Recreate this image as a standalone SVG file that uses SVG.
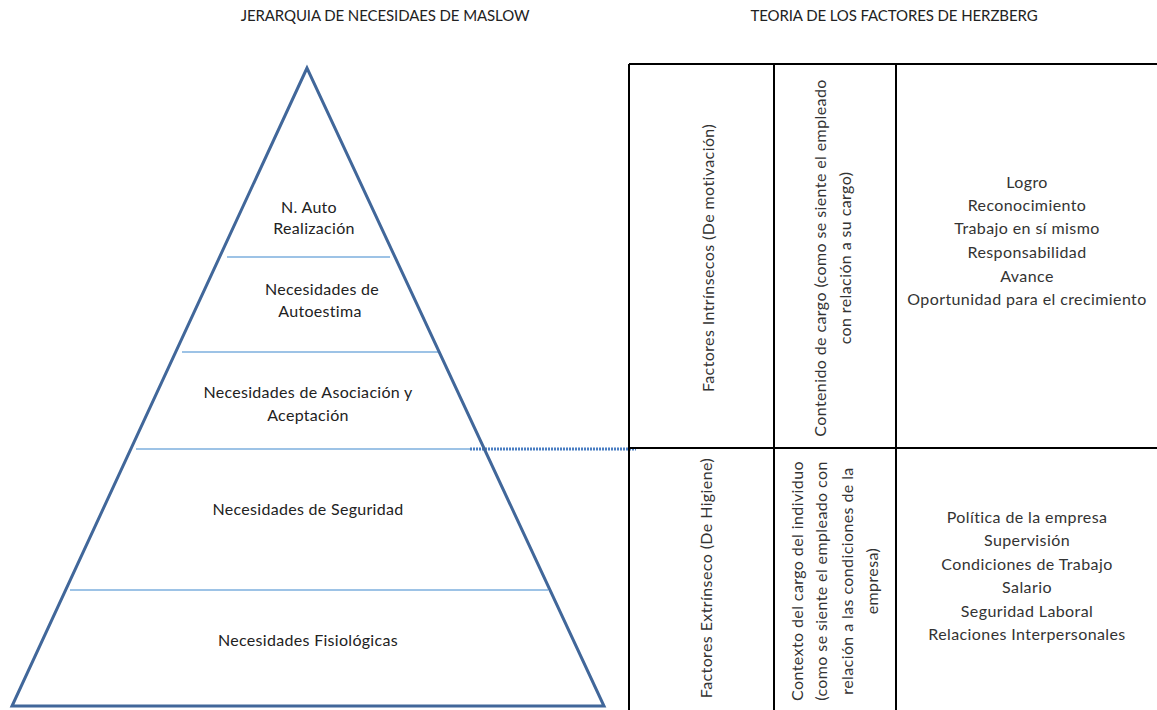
<svg xmlns="http://www.w3.org/2000/svg" width="1157" height="710" viewBox="0 0 1157 710">
<style>
text{font-family:Lato,"Open Sans","Liberation Sans",sans-serif;fill:#222;}
.h{font-size:15px;text-anchor:middle;letter-spacing:-0.1px;}
.p{font-size:16px;text-anchor:middle;letter-spacing:0.3px;}
.t{font-size:16px;text-anchor:middle;fill:#333;letter-spacing:0.4px;}
.lv{stroke:#9dc3e6;stroke-width:2;fill:none;}
.grid{stroke:#000;stroke-width:2;fill:none;}
</style>
<rect width="1157" height="710" fill="#fff"/>
<text class="h" x="385" y="21">JERARQUIA DE NECESIDAES DE MASLOW</text>
<text class="h" x="894" y="21">TEORIA DE LOS FACTORES DE HERZBERG</text>

<g id="connectors">
<line class="lv" x1="227" y1="257" x2="390" y2="257"/>
<line class="lv" x1="182" y1="352" x2="440" y2="352"/>
<line class="lv" x1="136" y1="449" x2="470" y2="449"/>
<line x1="470" y1="449" x2="636" y2="449" stroke="#4a7ec2" stroke-width="3" stroke-dasharray="2,1"/>
<line class="lv" x1="70" y1="590" x2="548" y2="590"/>
</g>

<g id="pyramid">
<polygon points="307,68 12,706 604,706" fill="none" stroke="#41679a" stroke-width="3" stroke-linejoin="miter"/>
</g>
<g id="n-autorealizacion"><text class="p" x="309" y="213">N. Auto</text><text class="p" x="314" y="234">Realización</text></g>
<g id="n-autoestima"><text class="p" x="322" y="295">Necesidades de</text><text class="p" x="320" y="317">Autoestima</text></g>
<g id="n-asociacion"><text class="p" x="308" y="398">Necesidades  de Asociación y</text><text class="p" x="308" y="421">Aceptación</text></g>
<g id="n-seguridad"><text class="p" x="308" y="515">Necesidades de Seguridad</text></g>
<g id="n-fisiologicas"><text class="p" x="308" y="646">Necesidades Fisiológicas</text></g>

<g id="herzberg-table">
<line class="grid" x1="629" y1="64" x2="1157" y2="64"/>
<line class="grid" x1="629" y1="448" x2="1157" y2="448"/>
<line class="grid" x1="629" y1="64" x2="629" y2="710"/>
<line class="grid" x1="774" y1="64" x2="774" y2="710"/>
<line class="grid" x1="896" y1="64" x2="896" y2="710"/>
</g>

<g id="intrinsecos"><text class="t" transform="translate(714,258) rotate(-90)">Factores Intrínsecos (De motivación)</text></g>
<g id="contenido"><text class="t" transform="translate(826,258) rotate(-90)">Contenido de cargo (como se siente el empleado</text><text class="t" transform="translate(851,258) rotate(-90)">con relación a su cargo)</text></g>
<g id="motivadores">
<text class="t" x="1027" y="188">Logro</text>
<text class="t" x="1027" y="211">Reconocimiento</text>
<text class="t" x="1027" y="234">Trabajo en sí mismo</text>
<text class="t" x="1027" y="258">Responsabilidad</text>
<text class="t" x="1027" y="282">Avance</text>
<text class="t" x="1027" y="305">Oportunidad para el crecimiento</text>
</g>

<g id="extrinsecos"><text class="t" transform="translate(712,578) rotate(-90)">Factores Extrínseco (De Higiene)</text></g>
<g id="contexto">
<text class="t" transform="translate(803,581) rotate(-90)">Contexto del cargo del individuo</text>
<text class="t" transform="translate(827,581) rotate(-90)">(como se siente el empleado con</text>
<text class="t" transform="translate(853,581) rotate(-90)">relación a las condiciones de la</text>
<text class="t" transform="translate(878,581) rotate(-90)">empresa)</text>
</g>
<g id="higiene">
<text class="t" x="1027" y="523">Política de la empresa</text>
<text class="t" x="1027" y="546">Supervisión</text>
<text class="t" x="1027" y="570">Condiciones de Trabajo</text>
<text class="t" x="1027" y="593">Salario</text>
<text class="t" x="1027" y="617">Seguridad Laboral</text>
<text class="t" x="1027" y="640">Relaciones Interpersonales</text>
</g>
</svg>
